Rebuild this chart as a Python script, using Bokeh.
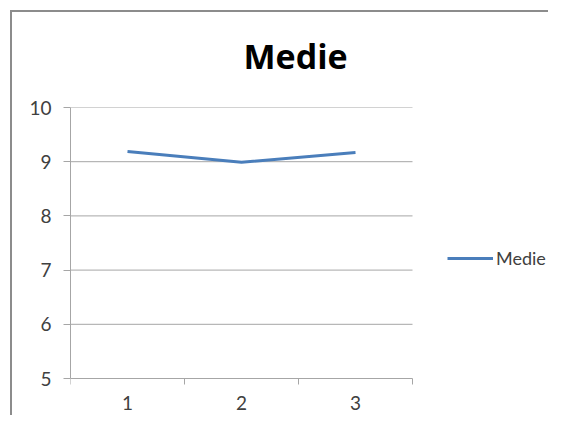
from bokeh.plotting import figure
from bokeh.models import Range1d, FixedTicker, Legend, LegendItem, InlineStyleSheet
from bokeh.embed import file_html
from bokeh.resources import INLINE

categories = [1, 2, 3]
cat_labels = ["1", "2", "3"]
cat_bounds = [0.5, 1.5, 2.5, 3.5]
medie = [9.19, 8.99, 9.17]
y_ticks = [5, 6, 7, 8, 9, 10]
series_name = "Medie"
title_text = "Medie"

FONT = "Lato"
TXT = "#404040"
GRID = "#a6a6a6"
FRAME = "#8c8c8c"

W, H = 548, 415
LEFT, RIGHT_CAT, TOP, AXIS_Y = 70, 412, 107, 378   # pixel layout of the plot area
x_lo, x_hi = cat_bounds[0], cat_bounds[-1]
x_end = x_lo + (W - LEFT) * (x_hi - x_lo) / (RIGHT_CAT - LEFT)
y_lo, y_hi = y_ticks[0], y_ticks[-1]
px_per_unit = (AXIS_Y - TOP) / (y_hi - y_lo)
y_start = y_lo - (H - AXIS_Y) / px_per_unit
tick_len = 6 / px_per_unit

p = figure(width=W, height=H, output_backend="svg", toolbar_location=None,
           x_range=Range1d(x_lo, x_end), y_range=Range1d(y_start, y_hi),
           x_axis_location=None,
           min_border_left=LEFT, min_border_right=0, min_border_top=TOP,
           min_border_bottom=0, background_fill_color="white",
           border_fill_color=None)
p.outline_line_color = None
p.stylesheets = [InlineStyleSheet(css=(
    ":host { background-color: white; "
    f"background-image: linear-gradient({FRAME},{FRAME}), linear-gradient({FRAME},{FRAME}); "
    "background-position: 10px 10px, 10px 10px; "
    "background-size: 2px 1000px, 1000px 2px; "
    "background-repeat: no-repeat, no-repeat; }"
))]

p.title.text = title_text
p.title.align = "left"
p.title.offset = 173
p.title.text_font = "Open Sans"
p.title.text_font_size = "34px"
p.title.text_font_style = "bold"
p.title.text_color = "black"
p.title.standoff = 58

# y axis
ya = p.yaxis[0]
ya.bounds = (y_lo, y_hi)
ya.ticker = FixedTicker(ticks=y_ticks)
ya.axis_line_color = GRID
ya.major_tick_line_color = GRID
ya.major_tick_out = 7
ya.major_tick_in = 0
ya.minor_tick_line_color = None
ya.major_label_text_font = FONT
ya.major_label_text_font_size = "19px"
ya.major_label_text_color = TXT
ya.major_label_standoff = 12

p.xgrid.grid_line_color = None
p.ygrid.grid_line_color = None

# horizontal grid lines (the one at 5 is the category axis line)
p.segment(x0=[x_lo] * len(y_ticks), x1=[x_hi] * len(y_ticks),
          y0=y_ticks, y1=y_ticks, line_color=GRID, line_width=1)
# category axis ticks between categories
p.segment(x0=cat_bounds, x1=cat_bounds, y0=[y_lo] * len(cat_bounds),
          y1=[y_lo - tick_len] * len(cat_bounds), line_color=GRID, line_width=1)
# category labels
p.text(x=categories, y=[y_lo] * len(categories), text=cat_labels,
       text_align="center", text_baseline="alphabetic", y_offset=24,
       text_font={"value": FONT}, text_font_size={"value": "19px"},
       text_color=TXT)

r = p.line(categories, medie, line_color="#4a7ebb", line_width=3)

legend = Legend(items=[LegendItem(label=series_name, renderers=[r])],
                location=(377, H - 269), padding=0, margin=0, spacing=0,
                label_standoff=3, glyph_width=46, glyph_height=20,
                label_height=20, border_line_color=None,
                background_fill_alpha=0, label_text_font=FONT,
                label_text_font_size="18px", label_text_color=TXT)
p.add_layout(legend, "center")

open("out.html", "w").write(file_html(p, INLINE))
